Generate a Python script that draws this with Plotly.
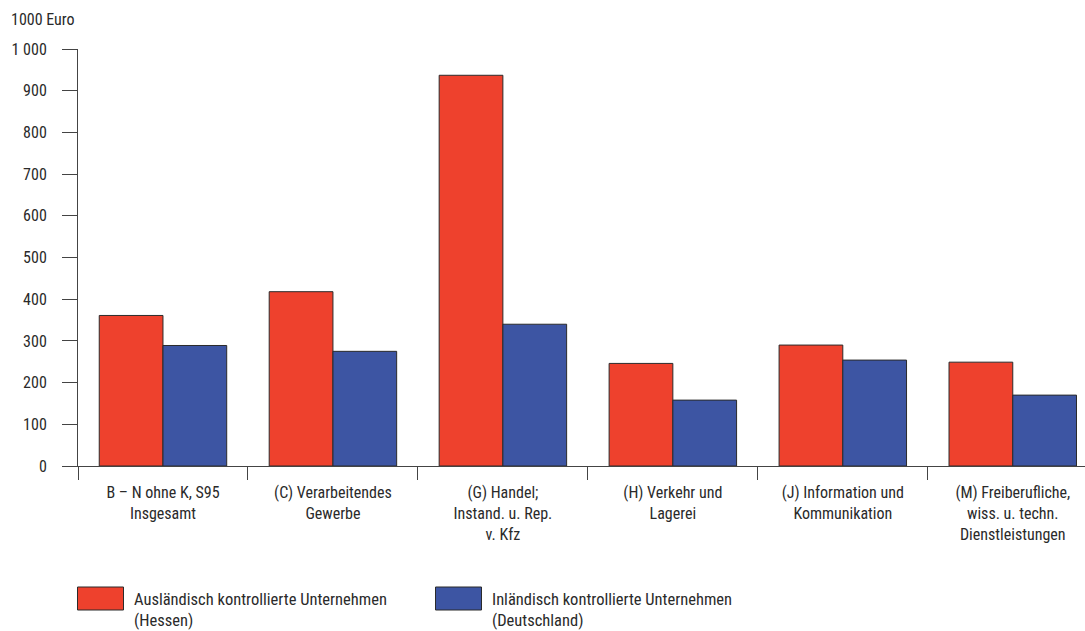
import plotly.graph_objects as go

# Branchen (category labels, with manual line breaks)
categories = [
    "B – N ohne K, S95<br>Insgesamt",
    "(C) Verarbeitendes<br>Gewerbe",
    "(G) Handel;<br>Instand. u. Rep.<br>v. Kfz",
    "(H) Verkehr und<br>Lagerei",
    "(J) Information und<br>Kommunikation",
    "(M) Freiberufliche,<br>wiss. u. techn.<br>Dienstleistungen",
]

# Werte in 1000 Euro
auslaendisch_hessen = [361, 418, 937, 246, 290, 249]
inlaendisch_deutschland = [289, 275, 340, 158, 254, 170]

series_names = [
    "Ausländisch kontrollierte Unternehmen<br>(Hessen)",
    "Inländisch kontrollierte Unternehmen<br>(Deutschland)",
]

y_tick_values = [0, 100, 200, 300, 400, 500, 600, 700, 800, 900, 1000]
y_tick_labels = ["0", "100", "200", "300", "400", "500", "600", "700", "800", "900", "1 000"]

RED = "#EE412D"
BLUE = "#3D55A3"
OUTLINE = "#2b2b2b"
TEXT = "#2a2a2a"
FONT = "Roboto Condensed, Liberation Sans Narrow, sans-serif"

fig = go.Figure()
fig.add_trace(go.Bar(
    x=categories, y=auslaendisch_hessen, name=series_names[0],
    marker=dict(color=RED, line=dict(color=OUTLINE, width=1)),
    showlegend=False,
))
fig.add_trace(go.Bar(
    x=categories, y=inlaendisch_deutschland, name=series_names[1],
    marker=dict(color=BLUE, line=dict(color=OUTLINE, width=1)),
    showlegend=False,
))

W, H = 1085, 631
L, R, T, B = 78, 0, 49, 165
plot_h = H - T - B

fig.update_layout(
    width=W, height=H,
    margin=dict(l=L, r=R, t=T, b=B, pad=0),
    paper_bgcolor="white", plot_bgcolor="white",
    barmode="group", bargap=0.25, bargroupgap=0,
    font=dict(family=FONT, size=16, color=TEXT),
)

fig.update_xaxes(
    type="category",
    range=[-0.5, 5.425],
    showline=True, linecolor="#444444", linewidth=1,
    ticks="outside", tickson="boundaries", ticklen=13,
    tickcolor="#444444", tickwidth=1,
    ticklabelstandoff=12,
    showgrid=False, zeroline=False,
    tickfont=dict(family=FONT, size=16, color=TEXT),
)
fig.update_yaxes(
    range=[0, 1000],
    tickvals=y_tick_values, ticktext=y_tick_labels,
    showline=True, linecolor="#444444", linewidth=1,
    ticks="outside", ticklen=15, tickcolor="#444444", tickwidth=1,
    ticklabelstandoff=12,
    showgrid=False, zeroline=False,
    tickfont=dict(family=FONT, size=16, color=TEXT),
)


def py(px_y):
    """Convert a pixel row to paper y."""
    return (H - B - px_y) / plot_h


def px(px_x):
    """Convert a pixel column to paper x."""
    return (px_x - L) / (W - L - R)


# Unit label above the value axis
fig.add_annotation(
    text="1000 Euro", xref="paper", yref="paper",
    x=px(9), y=py(20), xanchor="left", yanchor="middle",
    showarrow=False, font=dict(family=FONT, size=16, color=TEXT),
)

# Legend: swatch boxes with two-line captions
legend_items = [(77.5, RED, series_names[0]), (435.5, BLUE, series_names[1])]
for x0, color, label in legend_items:
    fig.add_shape(
        type="rect", xref="paper", yref="paper",
        x0=px(x0), x1=px(x0 + 46), y0=py(610), y1=py(587),
        fillcolor=color, line=dict(color=OUTLINE, width=1),
    )
    fig.add_annotation(
        text=label, xref="paper", yref="paper",
        x=px(x0 + 54), y=py(610), xanchor="left", yanchor="middle",
        align="left", showarrow=False,
        font=dict(family=FONT, size=16.5, color=TEXT),
    )

fig.write_html("out.html")
